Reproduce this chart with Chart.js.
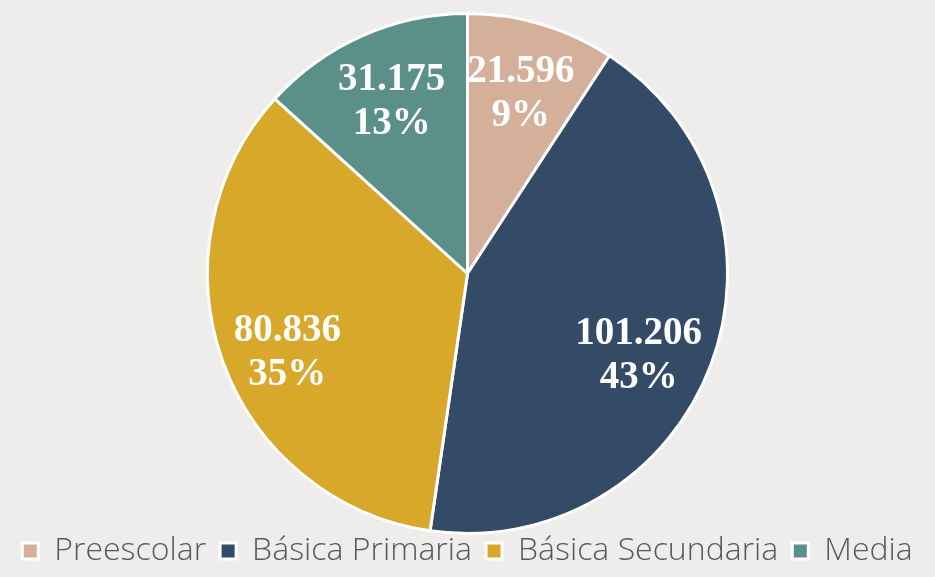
<!DOCTYPE html>
<html>
<head>
<meta charset="utf-8">
<script src="https://cdn.jsdelivr.net/npm/chart.js@4"></script>
<style>
  html, body { margin: 0; padding: 0; background: #EEEDEB; }
  #wrap { width: 935px; height: 577px; position: relative; }
</style>
</head>
<body>
<div id="wrap"><canvas id="c" width="935" height="577"></canvas></div>
<script>
const categories = ['Preescolar', 'Básica Primaria', 'Básica Secundaria', 'Media'];
const values = [21596, 101206, 80836, 31175];
const valueLabels = ['21.596', '101.206', '80.836', '31.175'];
const percentLabels = ['9%', '43%', '35%', '13%'];
const colors = ['#D4AF9A', '#344B68', '#D8A82B', '#5A8F8A'];

const labelPlugin = {
  id: 'sliceLabels',
  afterDatasetsDraw(chart) {
    const ctx = chart.ctx;
    const meta = chart.getDatasetMeta(0);
    ctx.save();
    ctx.fillStyle = '#FFFFFF';
    ctx.font = 'bold 39px "Liberation Serif", "Times New Roman", serif';
    ctx.textAlign = 'center';
    ctx.textBaseline = 'middle';
    meta.data.forEach((arc, i) => {
      const p = arc.getProps(['x', 'y', 'startAngle', 'endAngle', 'outerRadius'], true);
      const mid = (p.startAngle + p.endAngle) / 2;
      const big = (p.endAngle - p.startAngle) > Math.PI / 2;
      const r = p.outerRadius * 0.72;
      const x = p.x + Math.cos(mid) * r - (big ? 4 : 0);
      const y = p.y + Math.sin(mid) * r + (big ? 16 : 0);
      ctx.fillText(valueLabels[i], x, y - 22);
      ctx.fillText(percentLabels[i], x, y + 22);
    });
    ctx.restore();
  }
};

new Chart(document.getElementById('c'), {
  type: 'pie',
  data: {
    labels: categories,
    datasets: [{
      data: values,
      backgroundColor: colors,
      borderColor: '#FFFFFF',
      borderWidth: 3
    }]
  },
  options: {
    responsive: false,
    animation: false,
    radius: 260,
    layout: { padding: { top: 26, bottom: 0 } },
    plugins: {
      tooltip: { enabled: false },
      legend: {
        position: 'bottom',
        labels: {
          color: '#595959',
          font: { family: '"Open Sans", Lato, sans-serif', size: 32, weight: 300 },
          boxWidth: 16,
          boxHeight: 16,
          padding: 14
        }
      }
    }
  },
  plugins: [labelPlugin]
});
</script>
</body>
</html>
